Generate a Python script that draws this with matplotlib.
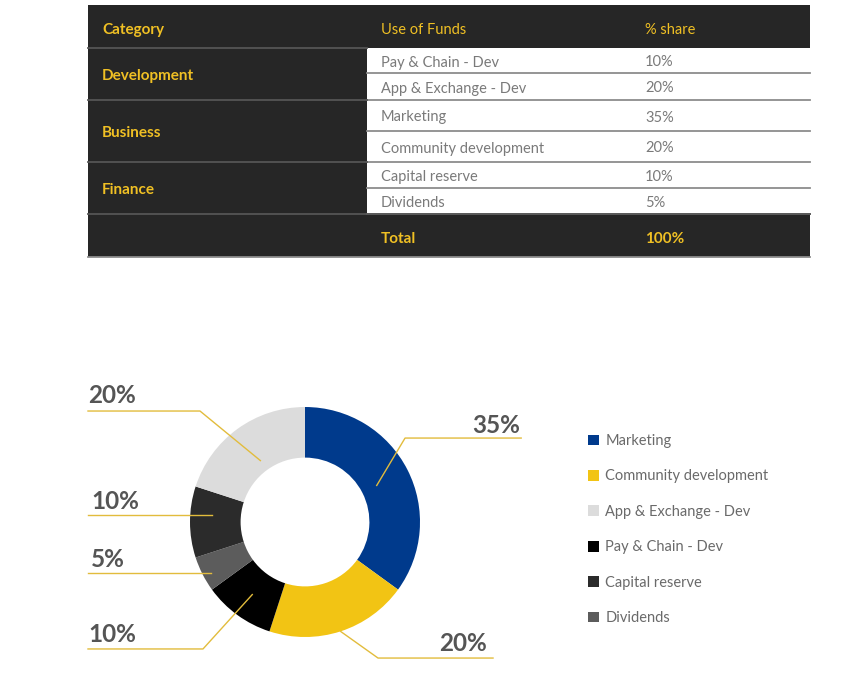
import matplotlib.pyplot as plt
from matplotlib.patches import Rectangle
import numpy as np

plt.rcParams['font.family'] = ['Lato', 'DejaVu Sans']

# table data
categories = ["Development", "Business", "Finance"]
uses = ["Pay & Chain - Dev", "App & Exchange - Dev", "Marketing",
        "Community development", "Capital reserve", "Dividends"]
shares = [10, 20, 35, 20, 10, 5]
use_category = [0, 0, 1, 1, 2, 2]

# donut data (clockwise from the top)
pie_labels = ["Marketing", "Community development", "Pay & Chain - Dev",
              "Dividends", "Capital reserve", "App & Exchange - Dev"]
pie_values = [35, 20, 10, 5, 10, 20]
pie_colors = ["#003a8c", "#f2c414", "#000000", "#5c5c5c", "#2b2b2b", "#dcdcdc"]
legend_order = ["Marketing", "Community development", "App & Exchange - Dev",
                "Pay & Chain - Dev", "Capital reserve", "Dividends"]

DARK = "#262626"
YEL = "#f0c024"
LINE = "#8c8c8c"
DY = 2  # small baseline nudge for table text

fig = plt.figure(figsize=(8.53, 6.98), dpi=100)
ax = fig.add_axes([0, 0, 1, 1])
ax.set_xlim(0, 853)
ax.set_ylim(698, 0)
ax.set_axis_off()

# ---- table ----
x0, x1, xm = 88, 810, 367
row_edges = [48, 73, 100, 131, 162, 188, 214]
ax.add_patch(Rectangle((x0, 5), x1 - x0, 43, color=DARK, lw=0))
ax.add_patch(Rectangle((x0, 48), xm - x0, 166, color=DARK, lw=0))
ax.add_patch(Rectangle((x0, 214), x1 - x0, 43, color=DARK, lw=0))

ax.text(102, 28 + DY, "Category", color=YEL, fontsize=11, fontweight="bold", va="center")
ax.text(381, 28 + DY, "Use of Funds", color=YEL, fontsize=10.5, va="center")
ax.text(645, 28 + DY, "% share", color=YEL, fontsize=10.5, va="center")

for i, (u, s) in enumerate(zip(uses, shares)):
    yc = (row_edges[i] + row_edges[i + 1]) / 2 + DY
    ax.text(381, yc, u, color="#7a7a7a", fontsize=10.5, va="center")
    ax.text(645, yc, f"{s}%", color="#7a7a7a", fontsize=10.5, va="center")
    ax.plot([xm, x1], [row_edges[i + 1]] * 2, color=LINE, lw=1.3)

for c, name in enumerate(categories):
    rows = [i for i, uc in enumerate(use_category) if uc == c]
    top, bot = row_edges[rows[0]], row_edges[rows[-1] + 1]
    ax.text(102, (top + bot) / 2 + DY, name, color=YEL, fontsize=11, fontweight="bold", va="center")
    ax.plot([x0, xm], [top, top], color="#555555", lw=1.3)
ax.plot([x0, x1], [214, 214], color="#555555", lw=1.3)
ax.plot([x0, x1], [257, 257], color=LINE, lw=1.3)

ax.text(381, 237 + DY, "Total", color=YEL, fontsize=11, fontweight="bold", va="center")
ax.text(645, 237 + DY, f"{sum(shares)}%", color=YEL, fontsize=11, fontweight="bold", va="center")

# ---- donut ----
cx, cy, R = 305, 522, 115
pax = fig.add_axes([(cx - R) / 853, (698 - cy - R) / 698, 2 * R / 853, 2 * R / 698])
wedges, _ = pax.pie(pie_values, colors=pie_colors, startangle=90, counterclock=False,
                    wedgeprops=dict(width=0.44, linewidth=0))
pax.set_xlim(-1, 1)
pax.set_ylim(-1, 1)
pax.set_aspect("equal")

# label layout: anchor radius, line x range, line y, text pos, alignment
label_layout = {
    "Marketing": (0.70, (0.87, 1.88), 0.73, (1.87, 0.84), "right"),
    "Community development": (1.0, (0.635, 1.635), -1.183, (1.58, -1.06), "right"),
    "Pay & Chain - Dev": (0.78, (-1.887, -0.887), -1.104, (-1.887, -0.98), "left"),
    "Dividends": (0.92, (-1.887, None), -0.443, (-1.86, -0.33), "left"),
    "Capital reserve": (0.81, (-1.887, None), 0.061, (-1.86, 0.175), "left"),
    "App & Exchange - Dev": (0.66, (-1.887, -0.913), 0.965, (-1.887, 1.10), "left"),
}
for w, lab, val in zip(wedges, pie_labels, pie_values):
    r_a, (lx0, lx1), ly, (tx, ty), ha = label_layout[lab]
    ang = np.deg2rad((w.theta1 + w.theta2) / 2)
    axp, ayp = r_a * np.cos(ang), r_a * np.sin(ang)
    if lx1 is None:
        xs, ys = [lx0, axp], [ly, ly]
    elif ha == "left":
        xs, ys = [lx0, lx1, axp], [ly, ly, ayp]
    else:
        xs, ys = [lx1, lx0, axp], [ly, ly, ayp]
    pax.plot(xs, ys, color="#e2bc3c", lw=1.0, clip_on=False)
    pax.text(tx, ty, f"{val}%", ha=ha, va="center", fontsize=17.5,
             fontweight="bold", color="#555555", clip_on=False)

handles = [wedges[pie_labels.index(n)] for n in legend_order]
leg = fig.legend(handles, legend_order, loc="upper left",
                 bbox_to_anchor=(588 / 853, 1 - 434 / 698), frameon=False,
                 fontsize=10.5, handlelength=0.75, handleheight=0.75,
                 handletextpad=0.45, labelspacing=1.47, borderpad=0, borderaxespad=0)
for t in leg.get_texts():
    t.set_color("#6a6a6a")

fig.savefig("out.png", dpi=100)
